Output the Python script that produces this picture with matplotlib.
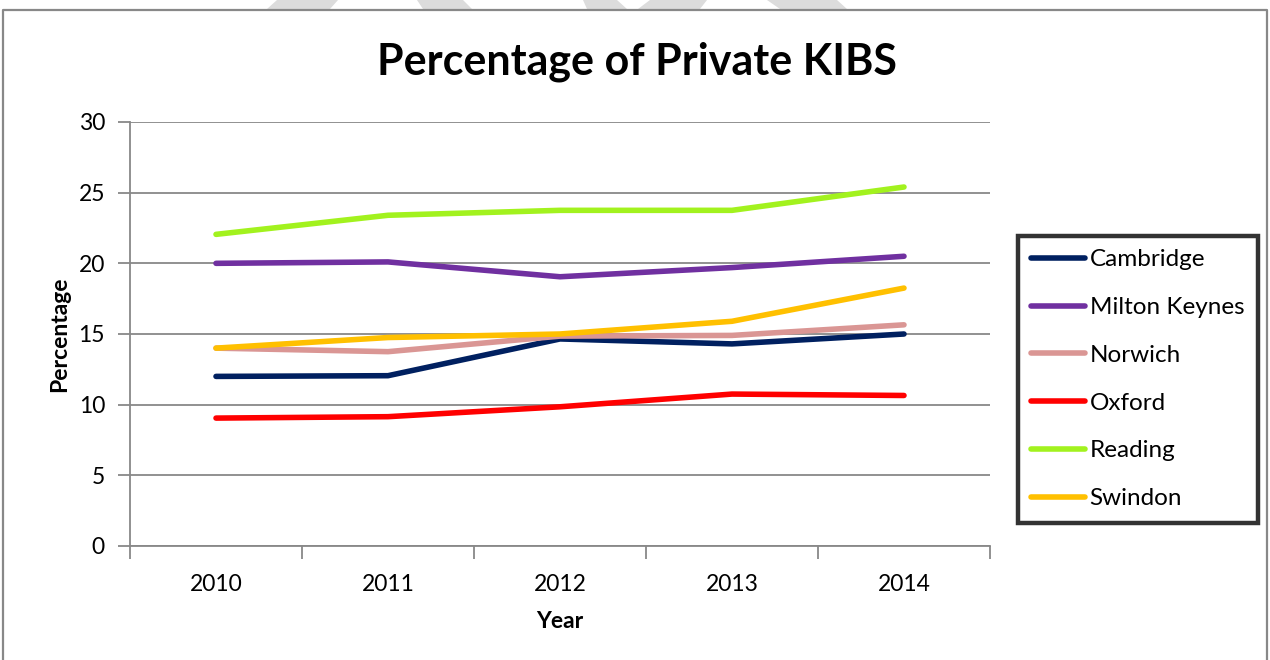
import matplotlib
matplotlib.use("Agg")
import matplotlib.pyplot as plt
from matplotlib.patches import Polygon
import numpy as np

years = ["2010", "2011", "2012", "2013", "2014"]
cambridge = [12.0, 12.05, 14.65, 14.3, 15.0]
milton_keynes = [20.0, 20.1, 19.05, 19.7, 20.5]
norwich = [14.0, 13.75, 14.85, 14.9, 15.65]
oxford = [9.05, 9.15, 9.85, 10.75, 10.65]
reading = [22.05, 23.4, 23.75, 23.75, 25.4]
swindon = [14.0, 14.75, 15.0, 15.9, 18.25]

series = [
    ("Cambridge", cambridge, "#002060"),
    ("Milton Keynes", milton_keynes, "#7030A0"),
    ("Norwich", norwich, "#DA9694"),
    ("Oxford", oxford, "#FF0000"),
    ("Reading", reading, "#A2F21E"),
    ("Swindon", swindon, "#FFC000"),
]

plt.rcParams["font.family"] = ["Lato", "DejaVu Sans"]

W, H = 1270, 660
fig = plt.figure(figsize=(W / 100, H / 100), dpi=100)
fig.patch.set_facecolor("white")

# faint diagonal watermark bands along the top edge
bands = [
    [(277, 0), (338, 0), (330, 9), (267, 9)],
    [(417, 0), (463, 0), (472, 9), (423, 9)],
    [(583, 0), (617, 0), (627, 9), (587, 9)],
    [(650, 0), (707, 0), (700, 9), (638, 9)],
    [(767, 0), (837, 0), (847, 9), (780, 9)],
]
for b in bands:
    pts = [(x / W, 1 - y / H) for x, y in b]
    fig.patches.append(Polygon(pts, closed=True, transform=fig.transFigure,
                               facecolor="#DCDCDC", edgecolor="none", zorder=0))

# chart area frame (open at the bottom)
frame_x = [3 / W, 3 / W, 1266.5 / W, 1266.5 / W]
frame_y = [-0.05, 1 - 10 / H, 1 - 10 / H, -0.05]
fig.add_artist(plt.Line2D(frame_x, frame_y, transform=fig.transFigure,
                          color="#888888", lw=1.6, zorder=1))

ax = fig.add_axes([130 / W, 1 - 546 / H, (990 - 130) / W, (546 - 122) / H])
x = np.arange(len(years))
for name, vals, col in series:
    ax.plot(x, vals, color=col, lw=4.0, solid_capstyle="round",
            solid_joinstyle="round", label=name, zorder=3)

ax.set_xlim(-0.5, len(years) - 0.5)
ax.set_ylim(0, 30)
ax.set_yticks(np.arange(0, 31, 5))
ax.yaxis.grid(True, color="#888888", lw=1.3)
ax.set_axisbelow(True)

ax.set_xticks(x)
ax.set_xticklabels(years)
ax.set_xticks(np.arange(-0.5, len(years), 1.0), minor=True)
ax.tick_params(axis="x", which="major", length=0, pad=20, labelsize=16.5)
ax.tick_params(axis="x", which="minor", length=9, width=1.3, color="#888888",
               direction="out")
ax.tick_params(axis="y", length=9, width=1.3, color="#888888", labelsize=16.5,
               pad=9)

for s in ["top", "right"]:
    ax.spines[s].set_visible(False)
for s in ["left", "bottom"]:
    ax.spines[s].set_color("#888888")
    ax.spines[s].set_linewidth(1.3)

ax.set_xlabel("Year", fontsize=16.5, fontweight="bold", labelpad=12)
ax.set_ylabel("Percentage", fontsize=16.5, fontweight="bold", labelpad=6)

fig.text(637 / W, 1 - 62 / H, "Percentage of Private KIBS", ha="center",
         va="center", fontsize=31, fontweight="bold")

leg = ax.legend(loc="upper left", bbox_to_anchor=(1018 / W, 1 - 236 / H),
                bbox_transform=fig.transFigure, fontsize=17.5, frameon=True,
                fancybox=False, handlelength=2.2, handletextpad=0.2,
                labelspacing=1.1, borderpad=0.55, borderaxespad=0)
leg.get_frame().set_edgecolor("black")
leg.get_frame().set_linewidth(3.2)
for line in leg.get_lines():
    line.set_linewidth(4.0)
    line.set_solid_capstyle("round")

fig.savefig("out.png", dpi=100, facecolor="white")
